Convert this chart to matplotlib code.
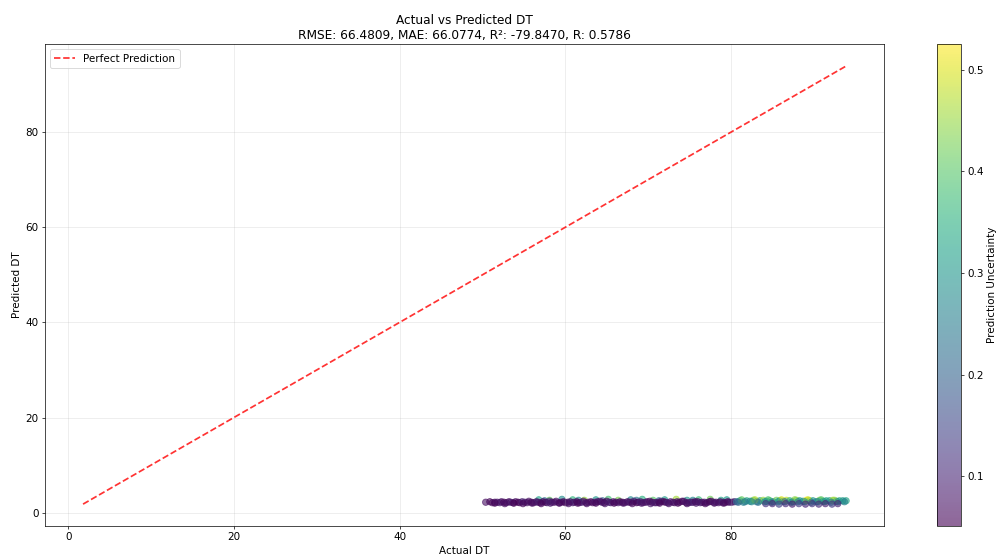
import numpy as np
import matplotlib.pyplot as plt

# light points sitting just above the main band (left part)
actual_top = [56.8, 58.1, 59.6, 60.9, 62.3, 63.7, 65.2, 66.4, 67.9, 69.3,
              70.6, 72.0, 73.4, 74.7, 76.1, 77.5, 78.8, 57.5, 61.6, 64.5,
              68.6, 71.3, 75.4, 79.5]
pred_top = [2.7, 2.6, 2.8, 2.7, 2.6, 2.7, 2.8, 2.6, 2.7, 2.8,
            2.6, 2.7, 2.8, 2.6, 2.7, 2.8, 2.6, 2.5, 2.6, 2.5,
            2.6, 2.5, 2.6, 2.7]
unc_top = [0.32, 0.41, 0.28, 0.36, 0.45, 0.30, 0.38, 0.43, 0.27, 0.35,
           0.40, 0.31, 0.46, 0.29, 0.37, 0.42, 0.33, 0.22, 0.26, 0.19,
           0.24, 0.21, 0.27, 0.30]

# main dark band
actual_band = [50.4, 51.2, 51.8, 52.3, 52.9, 53.4, 54.0, 54.5, 55.1, 55.6,
               56.2, 56.7, 57.3, 57.8, 58.4, 58.9, 59.5, 60.0, 60.6, 61.1,
               61.7, 62.2, 62.8, 63.3, 63.9, 64.4, 65.0, 65.5, 66.1, 66.6,
               67.2, 67.7, 68.3, 68.8, 69.4, 69.9, 70.5, 71.0, 71.6, 72.1,
               72.7, 73.2, 73.8, 74.3, 74.9, 75.4, 76.0, 76.5, 77.1, 77.6,
               78.2, 78.7, 79.3, 79.8, 80.4]
pred_band = [2.2, 2.1, 2.2, 2.3, 2.1, 2.2, 2.3, 2.1, 2.2, 2.4,
             2.1, 2.2, 2.3, 2.1, 2.2, 2.4, 2.2, 2.1, 2.3, 2.2,
             2.1, 2.4, 2.2, 2.1, 2.3, 2.2, 2.4, 2.1, 2.2, 2.3,
             2.1, 2.2, 2.4, 2.2, 2.1, 2.3, 2.2, 2.1, 2.4, 2.2,
             2.3, 2.1, 2.2, 2.4, 2.1, 2.2, 2.3, 2.2, 2.1, 2.4,
             2.2, 2.3, 2.1, 2.2, 2.3]
unc_band = [0.07, 0.06, 0.08, 0.07, 0.06, 0.09, 0.07, 0.06, 0.08, 0.07,
            0.06, 0.08, 0.07, 0.09, 0.06, 0.07, 0.08, 0.06, 0.07, 0.09,
            0.06, 0.07, 0.08, 0.06, 0.07, 0.09, 0.06, 0.08, 0.07, 0.06,
            0.08, 0.07, 0.09, 0.06, 0.07, 0.08, 0.06, 0.07, 0.09, 0.06,
            0.08, 0.07, 0.06, 0.09, 0.07, 0.08, 0.06, 0.07, 0.09, 0.06,
            0.08, 0.07, 0.06, 0.08, 0.09]

actual_mid = [50.9, 51.5, 52.1, 52.6, 53.2, 53.7, 54.3, 54.8, 55.4, 55.9,
              56.5, 57.0, 57.6, 58.1, 58.7, 59.2, 59.8, 60.3, 60.9, 61.4,
              62.0, 62.5, 63.1, 63.6, 64.2, 64.7, 65.3, 65.8, 66.4, 66.9,
              67.5, 68.0, 68.6, 69.1, 69.7, 70.2, 70.8, 71.3, 71.9, 72.4,
              73.0, 73.5, 74.1, 74.6, 75.2, 75.7, 76.3, 76.8, 77.4, 77.9,
              78.5, 79.0, 79.6, 80.1]
pred_mid = [2.3, 2.2, 2.1, 2.2, 2.3, 2.1, 2.2, 2.3, 2.1, 2.2,
            2.3, 2.1, 2.2, 2.4, 2.2, 2.1, 2.3, 2.2, 2.1, 2.3,
            2.2, 2.1, 2.3, 2.2, 2.4, 2.1, 2.2, 2.3, 2.1, 2.2,
            2.3, 2.2, 2.1, 2.3, 2.2, 2.4, 2.1, 2.2, 2.3, 2.1,
            2.2, 2.3, 2.4, 2.1, 2.2, 2.3, 2.1, 2.2, 2.3, 2.2,
            2.1, 2.2, 2.3, 2.2]
unc_mid = [0.06, 0.07, 0.08, 0.06, 0.07, 0.08, 0.06, 0.09, 0.07, 0.06,
           0.08, 0.07, 0.06, 0.09, 0.07, 0.08, 0.06, 0.07, 0.08, 0.06,
           0.09, 0.07, 0.06, 0.08, 0.07, 0.06, 0.09, 0.07, 0.08, 0.06,
           0.07, 0.08, 0.06, 0.09, 0.07, 0.06, 0.08, 0.07, 0.06, 0.09,
           0.07, 0.08, 0.06, 0.07, 0.09, 0.06, 0.08, 0.07, 0.06, 0.08,
           0.07, 0.09, 0.06, 0.08]

actual_low = [51.5, 52.7, 53.8, 54.9, 56.0, 57.1, 58.2, 59.3, 60.4, 61.5,
              62.6, 63.7, 64.8, 65.9, 67.0, 68.1, 69.2, 70.3, 71.4, 72.5,
              73.6, 74.7, 75.8, 76.9, 78.0, 79.1]
pred_low = [2.0, 1.9, 2.0, 1.9, 2.0, 1.9, 2.0, 2.0, 1.9, 2.0,
            1.9, 2.0, 1.9, 2.0, 2.0, 1.9, 2.0, 1.9, 2.0, 1.9,
            2.0, 1.9, 2.0, 1.9, 2.0, 2.0]
unc_low = [0.06, 0.07, 0.051, 0.06, 0.07, 0.06, 0.08, 0.06, 0.07, 0.06,
           0.07, 0.06, 0.08, 0.06, 0.07, 0.06, 0.07, 0.08, 0.06, 0.07,
           0.06, 0.07, 0.08, 0.06, 0.07, 0.06]

# right part: higher actual values, more uncertain
actual_right = [80.7, 81.1, 81.5, 81.9, 82.3, 82.7, 83.1, 83.5, 83.9, 84.3,
                84.7, 85.1, 85.5, 85.9, 86.3, 86.7, 87.1, 87.5, 87.9, 88.3,
                88.7, 89.1, 89.5, 89.9, 90.3, 90.7, 91.1, 91.5, 91.9, 92.3,
                92.7, 93.1, 93.5, 93.9, 81.3, 82.9, 84.5, 86.1, 87.7, 89.3,
                90.9, 92.5, 80.9, 81.7, 82.5, 83.3, 84.1, 84.9, 85.7, 86.5,
                87.3, 88.1, 88.9, 89.7, 90.5, 91.3, 92.1, 92.9, 93.7]
pred_right = [2.3, 2.5, 2.2, 2.5, 2.4, 2.6, 2.3, 2.5, 2.6, 2.4,
              2.5, 2.3, 2.6, 2.5, 2.4, 2.6, 2.5, 2.3, 2.6, 2.5,
              2.4, 2.6, 2.5, 2.5, 2.3, 2.6, 2.4, 2.5, 2.5, 2.6,
              2.4, 2.5, 2.5, 2.5, 2.7, 2.7, 2.7, 2.7, 2.7, 2.7,
              2.7, 2.6, 2.2, 2.3, 2.3, 2.2, 2.3, 2.2, 2.3, 2.3,
              2.2, 2.3, 2.3, 2.2, 2.3, 2.3, 2.2, 2.3, 2.3]
unc_right = [0.22, 0.30, 0.26, 0.35, 0.28, 0.40, 0.24, 0.33, 0.45, 0.29,
             0.37, 0.25, 0.42, 0.31, 0.27, 0.48, 0.36, 0.26, 0.44, 0.32,
             0.28, 0.525, 0.38, 0.30, 0.27, 0.43, 0.29, 0.34, 0.31, 0.46,
             0.28, 0.35, 0.30, 0.33, 0.41, 0.47, 0.39, 0.50, 0.44, 0.49,
             0.40, 0.45, 0.20, 0.24, 0.27, 0.22, 0.29, 0.25, 0.31, 0.23,
             0.28, 0.26, 0.30, 0.24, 0.27, 0.29, 0.25, 0.28, 0.26]

actual_right_low = [84.2, 85.0, 85.8, 86.6, 87.4, 88.2, 89.0, 89.8, 90.6, 91.4,
                    92.2, 92.9]
pred_right_low = [1.9, 1.9, 1.8, 1.9, 1.8, 1.9, 1.8, 1.9, 1.8, 1.9,
                  1.8, 1.9]
unc_right_low = [0.12, 0.10, 0.14, 0.11, 0.09, 0.13, 0.10, 0.12, 0.11, 0.09,
                 0.13, 0.10]

actual = np.array(actual_top + actual_band + actual_mid + actual_low
                  + actual_right + actual_right_low)
predicted = np.array(pred_top + pred_band + pred_mid + pred_low
                     + pred_right + pred_right_low)
uncertainty = np.array(unc_top + unc_band + unc_mid + unc_low
                       + unc_right + unc_right_low)

# original was drawn at 16x9 inches; keep that and lower the dpi
fig = plt.figure(figsize=(16, 8.962), dpi=62.375)
ax = fig.add_axes([0.045, 0.059, 0.841, 0.862])
cax = fig.add_axes([0.939, 0.059, 0.024, 0.862])

sc = ax.scatter(actual, predicted, c=uncertainty, cmap='viridis', alpha=0.6, s=55)
lo = min(actual.min(), predicted.min())
hi = max(actual.max(), predicted.max())
ax.plot([lo, hi], [lo, hi], 'r--', alpha=0.8, lw=2, label='Perfect Prediction')

ax.set_xlabel('Actual DT', fontsize=12)
ax.set_ylabel('Predicted DT', fontsize=12)
ax.set_title('Actual vs Predicted DT\nRMSE: 66.4809, MAE: 66.0774, R²: -79.8470, R: 0.5786', fontsize=14)
ax.legend(loc='upper left', fontsize=12)
ax.grid(True, alpha=0.3)
ax.tick_params(labelsize=12)

cb = fig.colorbar(sc, cax=cax)
cb.set_label('Prediction Uncertainty', fontsize=12)
cb.ax.tick_params(labelsize=12)

fig.savefig('out.png', dpi=62.375)
